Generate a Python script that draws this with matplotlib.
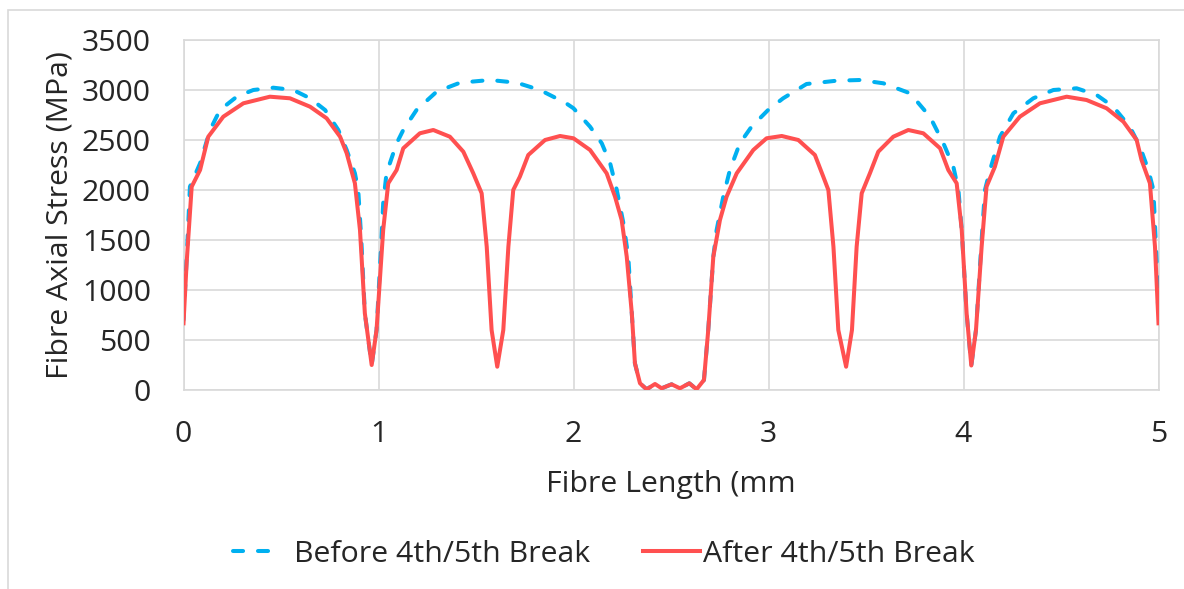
import matplotlib
matplotlib.use("Agg")
import matplotlib.pyplot as plt
from matplotlib.patches import Rectangle

# fibre stress profile along the fibre, before and after the 4th/5th break
before_x = [0.000, 0.016, 0.033, 0.085, 0.136, 0.187, 0.273, 0.358, 0.461, 0.563,
            0.649, 0.726, 0.794, 0.837, 0.879, 0.896, 0.912, 0.930, 0.965, 0.990,
            1.015, 1.024, 1.041, 1.093, 1.127, 1.195, 1.298, 1.418, 1.572, 1.709,
            1.828, 1.960, 2.000, 2.085, 2.145, 2.188, 2.222, 2.256, 2.281, 2.299,
            2.315, 2.341, 2.375, 2.418, 2.452, 2.503, 2.546, 2.594, 2.631, 2.669,
            2.691, 2.717, 2.734, 2.768, 2.802, 2.853, 2.913, 2.998, 3.075, 3.195,
            3.349, 3.469, 3.589, 3.726, 3.828, 3.897, 3.948, 3.974, 3.991, 4.016,
            4.040, 4.064, 4.093, 4.110, 4.136, 4.187, 4.256, 4.358, 4.461, 4.580,
            4.683, 4.768, 4.853, 4.905, 4.948, 4.974, 4.990, 5.000]
before_y = [700, 1300, 2033, 2267, 2600, 2800, 2933, 3000, 3023, 3000,
            2917, 2800, 2600, 2400, 2167, 2000, 1500, 767, 250, 600,
            1500, 1867, 2167, 2467, 2600, 2800, 2983, 3073, 3100, 3073,
            3000, 2870, 2817, 2633, 2467, 2267, 2000, 1667, 1333, 767,
            267, 67, 7, 60, 17, 57, 17, 67, 7, 100,
            600, 1333, 1600, 1933, 2200, 2467, 2633, 2800, 2917, 3060,
            3093, 3100, 3067, 2967, 2733, 2467, 2233, 2000, 1600, 767,
            245, 600, 1500, 2000, 2200, 2533, 2767, 2917, 3000, 3017,
            2950, 2833, 2633, 2433, 2200, 2000, 1300, 700]

after_x = [0.000, 0.016, 0.042, 0.085, 0.127, 0.204, 0.307, 0.443, 0.546, 0.649,
           0.734, 0.803, 0.837, 0.879, 0.905, 0.930, 0.965, 0.990, 1.024, 1.050,
           1.093, 1.127, 1.212, 1.281, 1.366, 1.435, 1.486, 1.529, 1.555, 1.580,
           1.609, 1.640, 1.666, 1.691, 1.725, 1.768, 1.854, 1.931, 2.000, 2.085,
           2.170, 2.213, 2.247, 2.273, 2.299, 2.315, 2.341, 2.375, 2.418, 2.452,
           2.503, 2.546, 2.594, 2.631, 2.669, 2.691, 2.717, 2.751, 2.785, 2.837,
           2.922, 2.990, 3.068, 3.153, 3.238, 3.281, 3.307, 3.333, 3.358, 3.398,
           3.428, 3.452, 3.478, 3.520, 3.563, 3.640, 3.717, 3.794, 3.880, 3.922,
           3.965, 3.991, 4.016, 4.040, 4.064, 4.093, 4.118, 4.161, 4.204, 4.289,
           4.392, 4.529, 4.631, 4.734, 4.820, 4.888, 4.913, 4.956, 4.982, 5.000]
after_y = [667, 1270, 2033, 2200, 2533, 2733, 2867, 2933, 2917, 2833,
           2717, 2533, 2367, 2067, 1600, 767, 250, 600, 1600, 2067,
           2200, 2417, 2567, 2600, 2533, 2383, 2167, 1967, 1433, 600,
           233, 600, 1433, 2000, 2133, 2350, 2500, 2540, 2517, 2400,
           2167, 1933, 1700, 1333, 767, 267, 67, 7, 60, 17,
           57, 17, 67, 7, 100, 600, 1333, 1700, 1933, 2167,
           2400, 2517, 2540, 2500, 2350, 2133, 2000, 1433, 600, 233,
           600, 1433, 1967, 2167, 2383, 2533, 2600, 2567, 2417, 2200,
           2067, 1600, 767, 245, 600, 1433, 2033, 2233, 2533, 2733,
           2867, 2933, 2900, 2817, 2683, 2500, 2300, 2067, 1433, 667]

x_ticks = [0, 1, 2, 3, 4, 5]
y_ticks = [0, 500, 1000, 1500, 2000, 2500, 3000, 3500]

plt.rcParams["font.family"] = ["Open Sans", "DejaVu Sans"]
grille = "#d9d9d9"
texte = "#262626"
fs = 21.8

fig = plt.figure(figsize=(11.84, 5.89), dpi=100)
ax = fig.add_axes([183.5 / 1184, 1 - 390 / 589, 975 / 1184, 350 / 589])

# cadre gris autour de la zone du graphique
fig.patches.append(Rectangle((8 / 1184, -0.05), 1.1, 1 - 10 / 589 + 0.05,
                             transform=fig.transFigure, fill=False,
                             edgecolor=grille, linewidth=1.2))

ax.plot(before_x, before_y, color="#00b0f0", linewidth=2.9,
        linestyle=(0, (2.5, 3.7)), dash_capstyle="round",
        label="Before 4th/5th Break", zorder=3)
ax.plot(after_x, after_y, color="#ff5050", linewidth=2.9,
        solid_joinstyle="round", label="After 4th/5th Break", zorder=4)

ax.set_xlim(0, 5)
ax.set_ylim(0, 3500)
ax.set_xticks(x_ticks)
ax.set_yticks(y_ticks)
ax.tick_params(length=0, labelsize=fs, colors=texte)
ax.tick_params(axis="x", pad=21.5)
ax.tick_params(axis="y", pad=23.5)
ax.grid(True, color=grille, linewidth=1.2)
ax.set_axisbelow(True)
for sp in ax.spines.values():
    sp.set_color(grille)
    sp.set_linewidth(1.2)

ax.set_xlabel("Fibre Length (mm", fontsize=fs, color=texte, labelpad=15)
ax.set_ylabel("Fibre Axial Stress (MPa)", fontsize=fs, color=texte, labelpad=5)

leg = fig.legend(loc="center", bbox_to_anchor=(604 / 1184, 35 / 589), ncol=2,
                 frameon=False, fontsize=fs, handlelength=1.9, handletextpad=0.1,
                 columnspacing=1.75, labelcolor=texte)

# deux tirets seulement dans la légende de la courbe pointillée
trait = leg.get_lines()[0]
xd = list(trait.get_xdata())
yd = list(trait.get_ydata())
trait.set_data([xd[0], xd[0] + (xd[-1] - xd[0]) * 0.72], [yd[0], yd[0]])

fig.savefig("out.png", dpi=100)
